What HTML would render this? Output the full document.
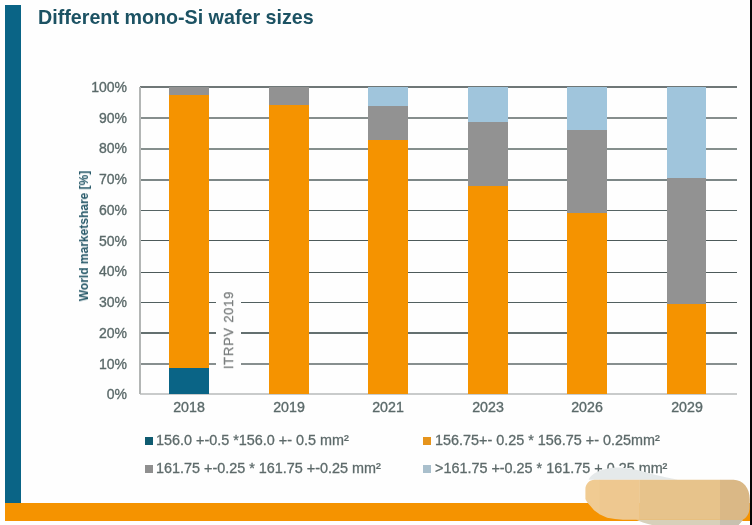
<!DOCTYPE html>
<html><head><meta charset="utf-8">
<style>
*{margin:0;padding:0;box-sizing:border-box}
html,body{width:752px;height:525px;overflow:hidden;background:#fefefe;font-family:"Liberation Sans",sans-serif}
.a{position:absolute}
body{-webkit-font-smoothing:antialiased}
.tx{will-change:transform}
.g{left:140px;width:597px}
.yl{will-change:transform;-webkit-text-stroke:0.35px #5b6a6a;width:60px;text-align:right;left:67px;font-size:14px;color:#5b6a6a;line-height:16px}
.bar{width:39.8px}
.o{background:#f59300}.t{background:#0a6486}.gr{background:#929292}.lb{background:#a0c5dc}
.xl{will-change:transform;-webkit-text-stroke:0.35px #5b6a6a;font-size:14.2px;color:#5b6a6a;width:60px;text-align:center;line-height:16px}
.lg{will-change:transform;-webkit-text-stroke:0.3px #5d6a6a;font-size:14.4px;color:#5d6a6a;white-space:nowrap;line-height:16px}
.sq{width:8px;height:8px}
</style></head><body>
<div class="a" style="left:5px;top:5px;width:16px;height:498px;background:#0a6486"></div>
<div class="a" style="left:5px;top:502.6px;width:745px;height:18px;background:#f59300"></div>
<div class="a" style="left:749.8px;top:0;width:2.2px;height:525px;background:#050505"></div>
<div class="a" style="left:38px;top:6.4px;will-change:transform;font-size:19.7px;font-weight:bold;color:#1c5263;white-space:nowrap;line-height:23px">Different mono-Si wafer sizes</div>

<div class="a" style="left:83.5px;top:236.2px;width:0;height:0">
  <div style="position:absolute;will-change:transform;transform:translate(-50%,-50%) rotate(-90deg);font-size:12px;font-weight:bold;color:#265868;white-space:nowrap;line-height:12px">World marketshare [%]</div>
</div>

<div class="a g" style="top:86.4px;height:1.6px;background:#6f7777"></div>
<div class="a g" style="top:117px;height:2px;background:#868e8d"></div>
<div class="a g" style="top:148px;height:2px;background:#858f8d"></div>
<div class="a g" style="top:179px;height:2px;background:#7d8787"></div>
<div class="a g" style="top:209.85px;height:1.3px;background:#566464"></div>
<div class="a g" style="top:239.85px;height:1.3px;background:#4d5a5a"></div>
<div class="a g" style="top:271.85px;height:1.3px;background:#4d5a5a"></div>
<div class="a g" style="top:301.85px;height:1.3px;background:#526060;width:76px"></div>
<div class="a g" style="top:301.85px;height:1.3px;background:#526060;left:241px;width:496px"></div>
<div class="a g" style="top:332.4px;height:1.6px;background:#647070;width:76px"></div>
<div class="a g" style="top:332.4px;height:1.6px;background:#647070;left:241px;width:496px"></div>
<div class="a g" style="top:363px;height:2px;background:#878f8f;width:76px"></div>
<div class="a g" style="top:363px;height:2px;background:#878f8f;left:241px;width:496px"></div>
<div class="a g" style="top:393px;height:2px;background:#c9cbcb"></div>
<div class="a" style="left:139px;top:87px;width:1.5px;height:307px;background:#b3b6b5"></div>
<div class="a yl" style="top:78.95px">100%</div>
<div class="a yl" style="top:109.68px">90%</div>
<div class="a yl" style="top:140.41px">80%</div>
<div class="a yl" style="top:171.14px">70%</div>
<div class="a yl" style="top:201.87px">60%</div>
<div class="a yl" style="top:232.60px">50%</div>
<div class="a yl" style="top:263.33px">40%</div>
<div class="a yl" style="top:294.06px">30%</div>
<div class="a yl" style="top:324.79px">20%</div>
<div class="a yl" style="top:355.52px">10%</div>
<div class="a yl" style="top:386.25px">0%</div>
<div class="a bar gr" style="left:169.40px;top:86.90px;height:307.50px"></div>
<div class="a bar o" style="left:169.40px;top:94.50px;height:299.90px"></div>
<div class="a bar t" style="left:169.40px;top:367.60px;height:26.80px"></div>
<div class="a bar gr" style="left:268.85px;top:86.90px;height:307.50px"></div>
<div class="a bar o" style="left:268.85px;top:105.10px;height:289.30px"></div>
<div class="a bar lb" style="left:368.30px;top:86.90px;height:307.50px"></div>
<div class="a bar gr" style="left:368.30px;top:105.80px;height:288.60px"></div>
<div class="a bar o" style="left:368.30px;top:139.50px;height:254.90px"></div>
<div class="a bar lb" style="left:467.75px;top:86.90px;height:307.50px"></div>
<div class="a bar gr" style="left:467.75px;top:121.80px;height:272.60px"></div>
<div class="a bar o" style="left:467.75px;top:185.80px;height:208.60px"></div>
<div class="a bar lb" style="left:567.20px;top:86.90px;height:307.50px"></div>
<div class="a bar gr" style="left:567.20px;top:130.00px;height:264.40px"></div>
<div class="a bar o" style="left:567.20px;top:212.50px;height:181.90px"></div>
<div class="a bar lb" style="left:666.65px;top:86.90px;height:307.50px"></div>
<div class="a bar gr" style="left:666.65px;top:177.80px;height:216.60px"></div>
<div class="a bar o" style="left:666.65px;top:303.60px;height:90.80px"></div>

<div class="a" style="left:229.2px;top:330.4px;width:0;height:0">
  <div style="position:absolute;will-change:transform;transform:translate(-50%,-50%) rotate(-90deg);font-size:13px;-webkit-text-stroke:0.3px #7a7e7e;letter-spacing:0.75px;color:#7a7e7e;white-space:nowrap;line-height:16px">ITRPV 2019</div>
</div>

<div class="a xl" style="left:159.30px;top:399.4px">2018</div>
<div class="a xl" style="left:258.75px;top:399.4px">2019</div>
<div class="a xl" style="left:358.20px;top:399.4px">2021</div>
<div class="a xl" style="left:457.65px;top:399.4px">2023</div>
<div class="a xl" style="left:557.10px;top:399.4px">2026</div>
<div class="a xl" style="left:656.55px;top:399.4px">2029</div>

<div class="a sq" style="left:144.5px;top:437.2px;background:#0f5b70"></div>
<div class="a lg" style="left:156px;top:432px">156.0 +-0.5 *156.0 +- 0.5 mm²</div>
<div class="a sq" style="left:144.5px;top:464.5px;background:#8f8f8f"></div>
<div class="a lg" style="left:156px;top:460px">161.75 +-0.25 * 161.75 +-0.25 mm²</div>
<div class="a sq" style="left:423.4px;top:437.2px;background:#e6941c"></div>
<div class="a lg" style="left:435px;top:432px">156.75+- 0.25 * 156.75 +- 0.25mm²</div>
<div class="a sq" style="left:423.4px;top:464.5px;background:#a9bfcc"></div>
<div class="a lg" style="left:434.5px;top:460px">&gt;161.75 +-0.25 * 161.75 + 0.25 mm²</div>

<svg class="a" style="left:0;top:0" width="752" height="525" viewBox="0 0 752 525">
<defs><clipPath id="cb"><path d="M585.4,499 L585.4,489 C585.4,484 589.5,479.7 594.5,479.7 L733.5,479.7 C743,479.7 749.8,488 749.8,499.5 L749.6,508.5 C749.2,513.5 746.5,518.5 742,519.8 L628,519.8 L623,519.7 L615,519 L607.1,517.7 L600,514.6 L594,510.2 L590,505.4 L588,503.3 L586.6,501.2 Z"/></clipPath></defs>
<path d="M588.6,479.8 C590,476.5 593,473.8 598,471.6 C603,469.2 610,467.4 618,467.5 C630,468 642,471 652,474 C662,476.5 670,478.3 678,479.8 Z" fill="#e5e9ea"/>
<path d="M636,519.5 L743,519.5 C741.5,521.5 740,523.5 738.5,525 L652,525 C645,523.5 640,521.5 636,519.5 Z" fill="#d7d0ba"/>
<path d="M720,519.5 L743,519.5 C741.5,521.5 740,523.5 738.5,525 L720,525 Z" fill="#c8c1b0"/>
<g clip-path="url(#cb)">
<rect x="585" y="479" width="15" height="42" fill="#f0cb92"/>
<rect x="599.6" y="479" width="40.3" height="42" fill="#eec890"/>
<rect x="639.8" y="479" width="80.3" height="42" fill="#e7c38b"/>
<rect x="720" y="479" width="31" height="42" fill="#dab886"/>
</g>
</svg>
</body></html>
